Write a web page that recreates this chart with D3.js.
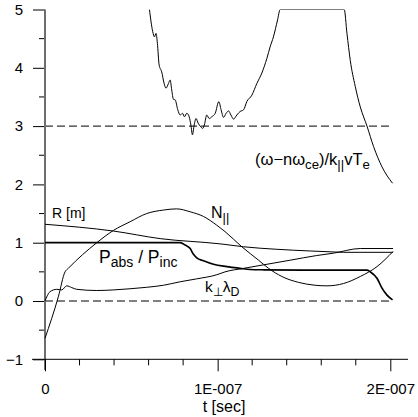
<!DOCTYPE html>
<html>
<head>
<meta charset="utf-8">
<script src="https://cdn.jsdelivr.net/npm/d3@7"></script>
<style>
  html, body { margin: 0; padding: 0; background: #fff; }
  svg { display: block; font-family: "Liberation Sans", Arial, sans-serif; }
</style>
</head>
<body>
<svg id="chart" width="418" height="417"></svg>
<script>
// Time samples are in nanoseconds; values are dimensionless (R in metres).

// (ω − nω_ce) / k_|| v_Te  — resonance parameter (clipped at the top of the frame)
const resT = [60.5, 62.4, 63.4, 64.3, 65.1, 66.1, 67.6, 69.0, 70.1, 71.5, 72.5, 73.4, 74.4, 75.4, 76.9, 78.3, 79.6, 80.8, 82.1, 83.5, 84.5, 85.4, 86.4, 87.5, 88.7, 89.9, 91.4, 92.3, 93.7, 95.1, 96.6, 98.6, 100.7, 102.0, 103.4, 104.9, 106.3, 107.7, 109.2, 111.1, 113.0, 115.0, 116.9, 119.8, 122.7, 125.6, 128.5, 130.4, 132.3, 134.7, 136.2, 173.3, 174.9, 176.8, 179.7, 182.6, 186.5, 190.3, 195.2, 201.3];
const resV = [5.0, 4.62, 4.53, 4.59, 4.42, 4.05, 3.93, 3.73, 3.65, 3.73, 3.79, 3.62, 3.46, 3.45, 3.28, 3.19, 3.22, 3.16, 3.22, 3.16, 3.02, 2.85, 3.02, 3.13, 3.05, 3.0, 2.96, 3.02, 3.19, 3.13, 3.16, 3.22, 3.42, 3.28, 3.15, 3.22, 3.26, 3.19, 3.12, 3.19, 3.25, 3.28, 3.42, 3.53, 3.73, 3.91, 4.16, 4.36, 4.53, 4.82, 5.0, 5.0, 4.59, 4.13, 3.68, 3.33, 3.0, 2.65, 2.30, 2.02];

// R [m]
const rT = [0, 39.6, 66.7, 101.4, 104.3, 115.0, 134.3, 153.6, 168.1, 172.9, 201.6];
const rV = [1.316, 1.20, 1.07, 0.98, 0.97, 0.93, 0.887, 0.858, 0.84, 0.835, 0.835];

// P_abs / P_inc
const pT = [0, 76.3, 78.3, 81.2, 84.1, 86.0, 87.9, 91.8, 97.6, 105.3, 113.0, 118.8, 127.0, 150.0, 170.0, 186.5, 188.4, 192.3, 195.2, 198.1, 201.3];
const pV = [1.0, 1.0, 1.0, 0.96, 0.90, 0.80, 0.74, 0.69, 0.63, 0.59, 0.56, 0.54, 0.535, 0.53, 0.53, 0.53, 0.50, 0.39, 0.22, 0.10, 0.02];

// N_||
const nT = [0, 7.7, 11.6, 13.5, 30.0, 39.6, 49.3, 58.9, 68.6, 76.3, 84.1, 91.8, 99.5, 104.3, 114.0, 123.7, 129.5, 137.2, 146.8, 156.5, 163.3, 172.9, 182.6, 192.3, 201.6];
const nV = [-0.64, 0.07, 0.50, 0.56, 1.0, 1.21, 1.36, 1.50, 1.56, 1.58, 1.53, 1.45, 1.30, 1.19, 0.93, 0.70, 0.56, 0.42, 0.32, 0.27, 0.26, 0.30, 0.42, 0.59, 0.85];

// k_⊥ λ_D
const kT = [0, 1.0, 2.9, 6.8, 9.7, 12.6, 15.5, 18.4, 30.0, 39.6, 49.3, 58.9, 68.6, 78.3, 87.9, 99.5, 104.3, 115.0, 126.6, 142.0, 157.4, 167.0, 182.6, 201.6];
const kV = [0.0, 0.07, 0.16, 0.20, 0.19, 0.26, 0.23, 0.20, 0.18, 0.19, 0.21, 0.235, 0.27, 0.33, 0.38, 0.45, 0.50, 0.56, 0.62, 0.70, 0.78, 0.82, 0.90, 0.90];

// Axis ticks
const yMajor = [-1, 0, 1, 2, 3, 4, 5];
const yMinor = [-0.5, 0.5, 1.5, 2.5, 3.5, 4.5];
const xMajor = [0, 1e-7, 2e-7];
const xMinor = [2e-8, 4e-8, 6e-8, 8e-8, 1.2e-7, 1.4e-7, 1.6e-7, 1.8e-7];
const refLines = [3, 0];

const NS = 1e-9;
const svg = d3.select("#chart");

const x = d3.scaleLinear().domain([0, 2e-7]).range([45, 390.3]);
const y = d3.scaleLinear().domain([-1, 5]).range([359.3, 9.5]);

const fmtE = d => {
  if (d === 0) return "0";
  const [m, e] = d.toExponential(0).split("e");
  const n = Math.abs(+e);
  return m + "E" + (+e < 0 ? "-" : "+") + String(n).padStart(3, "0");
};

// clip region: everything above value 5 is cut off
svg.append("clipPath").attr("id", "plotClip")
  .append("rect").attr("x", 40).attr("y", y(5)).attr("width", 370).attr("height", 360);

// dashed reference lines
svg.selectAll("line.ref").data(refLines).join("line")
  .attr("class", "ref")
  .attr("x1", x(0)).attr("x2", x(2.01e-7))
  .attr("y1", d => y(d)).attr("y2", d => y(d))
  .attr("stroke", "#000").attr("stroke-width", 1)
  .attr("stroke-dasharray", "8,4");

// axes
const gy = svg.append("g").attr("transform", `translate(${x(0)},0)`);
gy.call(d3.axisLeft(y).tickValues(yMajor).tickSize(12).tickPadding(10).tickFormat(d3.format("d")));
gy.select(".domain").remove();
gy.selectAll(".tick line").attr("stroke", "#000");
gy.selectAll(".tick text").attr("font-size", 15).attr("fill", "#000")
  .attr("font-family", "Liberation Sans, Arial, sans-serif");
gy.append("g").selectAll("line").data(yMinor).join("line")
  .attr("x1", -6).attr("x2", 0).attr("y1", d => y(d)).attr("y2", d => y(d))
  .attr("stroke", "#000");
gy.append("line").attr("x1", 0).attr("x2", 0).attr("y1", y(5)).attr("y2", 370)
  .attr("stroke", "#6e6e6e").attr("stroke-width", 2);

const gx = svg.append("g").attr("transform", `translate(0,${y(-1)})`);
gx.call(d3.axisBottom(x).tickValues(xMajor).tickSize(12).tickPadding(12).tickFormat(fmtE));
gx.select(".domain").remove();
gx.selectAll(".tick line").attr("stroke", "#000");
gx.selectAll(".tick text").attr("font-size", 15).attr("fill", "#000")
  .attr("font-family", "Liberation Sans, Arial, sans-serif");
gx.append("g").selectAll("line").data(xMinor).join("line")
  .attr("x1", d => x(d)).attr("x2", d => x(d)).attr("y1", 0).attr("y2", 6)
  .attr("stroke", "#000");
gx.append("line").attr("x1", 32).attr("x2", 408).attr("y1", 0).attr("y2", 0)
  .attr("stroke", "#000").attr("stroke-width", 1);

svg.append("text").attr("x", 224).attr("y", 412).attr("text-anchor", "middle")
  .attr("font-size", 16).text("t [sec]");

// curves
const series = [
  { t: resT, v: resV, w: 1 },
  { t: rT, v: rV, w: 1 },
  { t: nT, v: nV, w: 1 },
  { t: kT, v: kV, w: 1 },
  { t: pT, v: pV, w: 1.7 }
];
const line = d3.line()
  .x(d => x(d[0] * NS)).y(d => y(d[1]))
  .curve(d3.curveMonotoneX);

const gc = svg.append("g").attr("clip-path", "url(#plotClip)");
gc.selectAll("path").data(series).join("path")
  .attr("d", s => line(s.t.map((t, i) => [t, s.v[i]])))
  .attr("fill", "none").attr("stroke", "#000")
  .attr("stroke-width", s => s.w).attr("stroke-linejoin", "round");

// curve labels with subscripts
function label(px, py, size, parts) {
  const t = svg.append("text").attr("x", px).attr("y", py).attr("font-size", size);
  let shifted = 0;
  parts.forEach(p => {
    const sub = Array.isArray(p);
    const txt = sub ? p[0] : p;
    const target = sub ? 4 : 0;
    t.append("tspan")
      .attr("dy", target - shifted)
      .attr("font-size", sub ? size * 0.8 : size)
      .text(txt);
    shifted = target;
  });
}

label(52, 218, 14, ["R [m]"]);
label(211, 218, 16, ["N", ["||"]]);
label(99, 263, 17.5, ["P", ["abs"], " / P", ["inc"]]);
label(205, 292, 15.5, ["k", ["\u22a5"], "\u03bb", ["D"]]);
label(255, 165, 16.5, ["(\u03c9\u2212n\u03c9", ["ce"], ")/k", ["||"], "vT", ["e"]]);
</script>
</body>
</html>
